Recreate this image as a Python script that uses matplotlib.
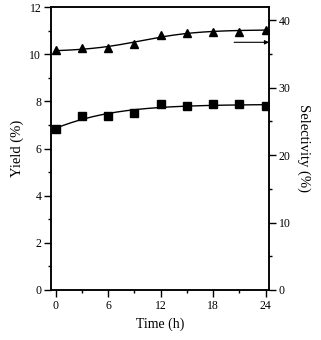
import numpy as np
import matplotlib
matplotlib.use("Agg")
import matplotlib.pyplot as plt
from matplotlib.ticker import MultipleLocator

time_h = [0, 3, 6, 9, 12, 15, 18, 21, 24]
yield_pct = [6.81, 7.39, 7.39, 7.49, 7.87, 7.80, 7.87, 7.87, 7.80]
selectivity_pct = [35.5, 35.8, 35.9, 36.5, 37.8, 38.1, 38.3, 38.3, 38.5]

x_ticks = [0, 6, 12, 18, 24]
y_left_ticks = [0, 2, 4, 6, 8, 10, 12]
y_right_ticks = [0, 10, 20, 30, 40]

plt.rcParams['font.family'] = ['Liberation Serif', 'DejaVu Serif']


def sigmoid_fit(t, y, tgrid, dmin=2.0):
    """Least-squares fit of a + b*tanh((t-c)/d) by grid search over c, d."""
    t = np.asarray(t, float)
    y = np.asarray(y, float)
    best = None
    for c in np.linspace(-6, 20, 105):
        for d in np.linspace(dmin, 20, 73):
            A = np.column_stack([np.ones_like(t), np.tanh((t - c) / d)])
            coef, *_ = np.linalg.lstsq(A, y, rcond=None)
            r = np.sum((A @ coef - y) ** 2)
            if best is None or r < best[0]:
                best = (r, coef, c, d)
    _, coef, c, d = best
    return coef[0] + coef[1] * np.tanh((tgrid - c) / d)


fig = plt.figure(figsize=(3.21, 3.40), dpi=100)
ax = fig.add_axes([51/321, 1-290/340, (269-51)/321, (290-7)/340])
ax2 = ax.twinx()

tfit = np.linspace(0, 24, 200)

ax.plot(tfit, sigmoid_fit(time_h, yield_pct, tfit), color='black', lw=1.0)
ax.plot(time_h, yield_pct, 's', color='black', ms=5.2, ls='none')
ax2.plot(tfit, sigmoid_fit(time_h, selectivity_pct, tfit, dmin=6.5), color='black', lw=1.0)
ax2.plot(time_h, selectivity_pct, '^', color='black', ms=6, ls='none')

ax.set_xlim(-0.53, 24.38)
ax.set_ylim(0, 12)
ax2.set_ylim(0, 41.93)

ax.set_xticks(x_ticks)
ax.set_yticks(y_left_ticks)
ax2.set_yticks(y_right_ticks)
ax.xaxis.set_minor_locator(MultipleLocator(3))
ax.yaxis.set_minor_locator(MultipleLocator(1))
ax2.yaxis.set_minor_locator(MultipleLocator(5))

for a in (ax, ax2):
    for s in a.spines.values():
        s.set_linewidth(1.1)
    a.tick_params(which='major', direction='out', length=5, width=1.0, labelsize=8.5, pad=2)
    a.tick_params(which='minor', direction='out', length=2.5, width=1.0)

ax.tick_params(axis='x', which='both', top=False)
ax.tick_params(axis='y', which='both', right=False)

ax.set_xlabel('Time (h)', fontsize=10, labelpad=4)
ax.set_ylabel('Yield (%)', fontsize=10.5, labelpad=4)
ax2.set_ylabel('Selectivity (%)', fontsize=10.5, rotation=270, labelpad=14)

ax2.annotate('', xy=(24.38, 36.7), xytext=(20.4, 36.7),
             xycoords='data', textcoords='data',
             arrowprops=dict(arrowstyle='-|>', color='black', lw=0.8,
                             mutation_scale=6, shrinkA=0, shrinkB=0))

fig.savefig('out.png', dpi=100)
